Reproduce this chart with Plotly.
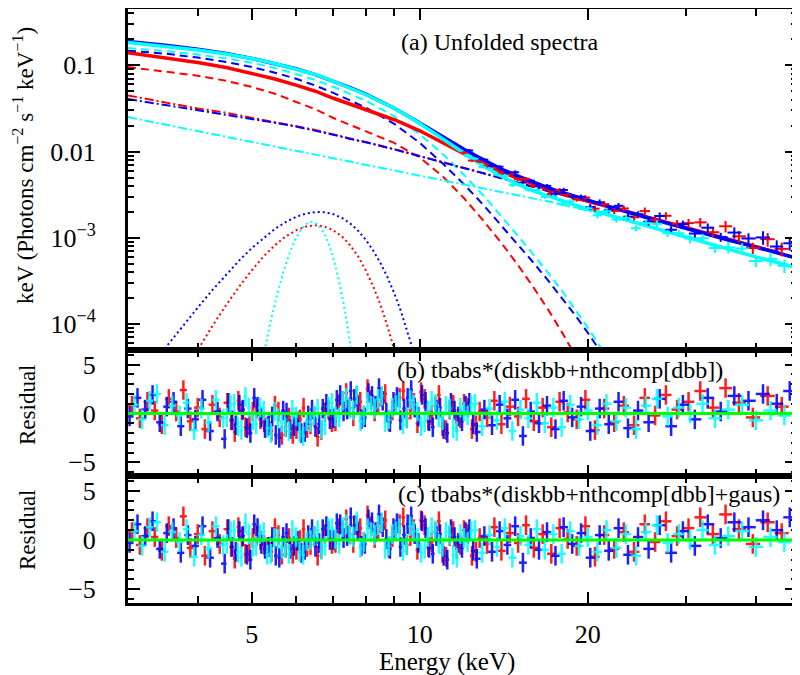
import numpy as np
import plotly.graph_objects as go

RED, BLUE, CYAN, GREEN = "#ff0000", "#0000ff", "#00ffff", "#00ff00"
FONT = "Liberation Serif, Times New Roman, serif"

# ---------------- model curves (panel a) ----------------
E_model = [3.0, 3.5, 4.0, 4.5, 5.0, 5.5, 6.0, 6.5, 7.0, 7.5, 8.0, 9.0, 10.0, 11.0, 12.0, 13.0,
           14.0, 15.0, 16.0, 17.0, 18.0, 19.0, 20.0, 22.0, 25.0, 28.0, 32.0, 36.0, 40.0, 44.0, 47.6]
total_red = [0.1402, 0.1223, 0.1076, 0.0945, 0.0811, 0.0695, 0.0589, 0.0501, 0.0415, 0.0353, 0.0307,
             0.0234, 0.01742, 0.01272, 0.00934, 0.0072, 0.00577, 0.00485, 0.00415, 0.00362, 0.00324,
             0.00292, 0.00265, 0.00226, 0.00180, 0.00147, 0.00117, 0.00095, 0.00079, 0.00067, None]
total_blue = [0.1886, 0.1713, 0.1534, 0.1369, 0.1203, 0.1051, 0.0913, 0.0780, 0.0656, 0.0550, 0.0463,
              0.0318, 0.0215, 0.01483, 0.01063, 0.00802, 0.00628, 0.0052, 0.0044, 0.00379, 0.00336,
              0.00301, 0.00271, 0.00227, 0.00178, 0.00145, 0.00115, 0.00093, 0.00078, 0.00066, 0.000575]
total_cyan = [0.1836, 0.1668, 0.1507, 0.1350, 0.1201, 0.1049, 0.0906, 0.0783, 0.0651, 0.0545, 0.0459,
              0.0317, 0.0211, 0.01398, 0.00951, 0.00682, 0.00517, 0.00415, 0.00348, 0.00303, 0.00267,
              0.00239, 0.00216, 0.00181, 0.00141, 0.00115, 0.00089, 0.00072, 0.00060, 0.00051, 0.000447]
nth_red = [0.0447, 0.0372, 0.0316, 0.0282, 0.0245, 0.0219, 0.0197, 0.0178, 0.0158, 0.0141, 0.0129,
           0.0107, 0.00891, 0.00759, 0.00646, 0.00562, 0.0049, 0.00437, 0.00389, 0.00347, 0.00316,
           0.00288, 0.00263, 0.00224, 0.00178, 0.00145, 0.00115, 0.00093, 0.00078, 0.00066, None]
nth_blue = [0.0407, 0.0347, 0.0302, 0.0269, 0.0240, 0.0216, 0.0195, 0.0176, 0.0157, 0.0140, 0.0128,
            0.0106, 0.00885, 0.00755, 0.00643, 0.00560, 0.00489, 0.00436, 0.00388, 0.00346, 0.00315,
            0.00287, 0.00262, 0.00223, 0.00177, 0.00144, 0.00114, 0.00092, 0.00077, 0.00066, 0.000575]
nth_cyan = [0.0251, 0.0206, 0.0173, 0.0148, 0.01294, 0.01143, 0.0102, 0.00918, 0.00836, 0.00764, 0.00701,
            0.00603, 0.00525, 0.00465, 0.00414, 0.00373, 0.00339, 0.0031, 0.00285, 0.00264, 0.00243,
            0.00224, 0.00207, 0.00178, 0.00141, 0.00115, 0.00089, 0.00072, 0.0006, 0.00051, 0.000447]

E_disk = [3.0, 3.5, 4.0, 4.5, 5.0, 5.5, 6.0, 6.5, 7.0, 7.5, 8.0, 9.0, 10.0, 11.0, 12.0, 13.0,
          14.0, 15.0, 16.0, 17.0, 18.0, 19.0, 20.0, 21.0, 22.0]
disk_red = [0.0955, 0.0851, 0.0759, 0.0661, 0.0562, 0.0468, 0.0380, 0.0309, 0.0245, 0.0204, 0.0174,
            0.0126, 0.00851, 0.00513, 0.00288, 0.00158, 0.00087, 0.00048, 0.000263, 0.000145, 7.9e-5,
            4.4e-5, 2.4e-5, None, None]
disk_blue = [0.148, 0.1365, 0.123, 0.1096, 0.0955, 0.0822, 0.070, 0.0582, 0.0479, 0.0394, 0.0324,
             0.0209, 0.0126, 0.00724, 0.00417, 0.0024, 0.00138, 0.00083, 0.00051, 0.000316, 0.0002,
             0.000126, 7.9e-5, 5.0e-5, 3.2e-5]
disk_cyan = [0.1585, 0.1462, 0.1334, 0.1202, 0.1072, 0.0933, 0.0794, 0.0676, 0.0562, 0.0468, 0.0389,
             0.0257, 0.01585, 0.00933, 0.00537, 0.00309, 0.00178, 0.00105, 0.00063, 0.00039, 0.00024,
             0.000148, 9.1e-5, 5.6e-5, 3.5e-5]

E_gau_red = [3.8, 4.0, 4.25, 4.5, 4.75, 5.0, 5.25, 5.5, 5.75, 6.0, 6.25, 6.5, 6.75, 7.0, 7.25, 7.5,
             7.75, 8.0, 8.25, 8.5, 8.75, 9.0, 9.25]
gau_red = [2.9e-5, 5.0e-5, 9.5e-5, 1.67e-4, 2.74e-4, 4.2e-4, 6.1e-4, 8.2e-4, 1.04e-3, 1.22e-3, 1.35e-3,
           1.40e-3, 1.35e-3, 1.22e-3, 1.04e-3, 8.2e-4, 6.1e-4, 4.2e-4, 2.74e-4, 1.67e-4, 9.5e-5, 5.0e-5, 2.9e-5]
E_gau_blue = [3.4, 3.6, 3.8, 4.0, 4.25, 4.5, 4.75, 5.0, 5.25, 5.5, 5.75, 6.0, 6.25, 6.5, 6.75, 7.0,
              7.25, 7.5, 7.75, 8.0, 8.25, 8.5, 8.75, 9.0, 9.25, 9.5, 9.75, 10.0]
gau_blue = [4.2e-5, 6.7e-5, 1.03e-4, 1.55e-4, 2.48e-4, 3.78e-4, 5.48e-4, 7.6e-4, 1.0e-3, 1.27e-3, 1.52e-3,
            1.75e-3, 1.91e-3, 1.99e-3, 1.98e-3, 1.88e-3, 1.70e-3, 1.47e-3, 1.21e-3, 9.5e-4, 7.1e-4, 5.1e-4,
            3.5e-4, 2.27e-4, 1.41e-4, 8.3e-5, 4.7e-5, 2.5e-5]
E_gau_cyan = [5.1, 5.25, 5.4, 5.55, 5.7, 5.85, 6.0, 6.15, 6.3, 6.4, 6.5, 6.65, 6.8, 6.95, 7.1, 7.25,
              7.4, 7.55, 7.7]
gau_cyan = [1.7e-5, 4.5e-5, 1.06e-4, 2.2e-4, 4.1e-4, 6.8e-4, 1.0e-3, 1.29e-3, 1.49e-3, 1.53e-3, 1.49e-3,
            1.29e-3, 1.0e-3, 6.8e-4, 4.1e-4, 2.2e-4, 1.06e-4, 4.5e-5, 1.7e-5]

# ---------------- data bins (energies, keV) ----------------
E_red = [3.05, 3.15, 3.25, 3.35, 3.45, 3.55, 3.66, 3.77, 3.88, 4.0,
         4.12, 4.25, 4.38, 4.52, 4.66, 4.8, 4.95, 5.1, 5.26, 5.42,
         5.58, 5.75, 5.92, 6.1, 6.28, 6.47, 6.66, 6.86, 7.06, 7.27,
         7.49, 7.71, 7.94, 8.18, 8.42, 8.67, 8.93, 9.2, 9.48, 9.76,
         10.05, 10.35, 10.66, 10.98, 11.31, 11.65, 12.0, 12.4, 12.8, 13.2,
         13.6, 14.0, 14.5, 15.0, 15.5, 16.0, 16.6, 17.2, 17.8, 18.4,
         19.1, 19.8, 20.6, 21.4, 22.3, 23.2, 24.2, 25.3, 26.4, 27.6,
         28.9, 30.3, 31.8, 33.5, 35.3, 37.3, 39.5, 42.0, 44.5]
E_blue = [3.02, 3.12, 3.22, 3.32, 3.42, 3.52, 3.62, 3.73, 3.84, 3.96,
          4.08, 4.21, 4.34, 4.47, 4.61, 4.75, 4.9, 5.05, 5.2, 5.36,
          5.52, 5.69, 5.86, 6.04, 6.22, 6.41, 6.6, 6.8, 7.0, 7.2,
          7.41, 7.63, 7.86, 8.09, 8.33, 8.58, 8.84, 9.1, 9.37, 9.65,
          9.94, 10.24, 10.55, 10.87, 11.2, 11.54, 11.9, 12.27, 12.65, 13.05,
          13.47, 13.9, 14.35, 14.82, 15.3, 15.8, 16.35, 16.9, 17.5, 18.1,
          18.75, 19.45, 20.2, 21.0, 21.8, 22.7, 23.6, 24.6, 25.7, 26.9,
          28.2, 29.6, 31.1, 32.8, 34.6, 36.6, 38.8, 41.2, 43.6, 46.0]
E_cyan = [3.08, 3.18, 3.28, 3.38, 3.49, 3.6, 3.71, 3.82, 3.94, 4.06,
          4.18, 4.31, 4.44, 4.58, 4.72, 4.87, 5.02, 5.17, 5.33, 5.49,
          5.66, 5.83, 6.0, 6.18, 6.37, 6.56, 6.76, 6.96, 7.17, 7.38,
          7.6, 7.83, 8.06, 8.3, 8.55, 8.8, 9.06, 9.33, 9.61, 9.9,
          10.2, 10.5, 10.82, 11.14, 11.48, 11.82, 12.18, 12.55, 12.93, 13.33,
          13.75, 14.2, 14.65, 15.15, 15.65, 16.2, 16.75, 17.35, 17.95, 18.6,
          19.3, 20.0, 20.8, 21.6, 22.5, 23.4, 24.4, 25.4, 26.6, 27.8,
          29.1, 30.5, 32.1, 33.8, 35.7, 37.8, 40.0, 42.5, 45.0]
# extra (finer) bins between 4.5 and 13 keV
E_red_x = [4.59, 4.73, 4.87, 5.02, 5.18, 5.34, 5.5, 5.66, 5.83, 6.01, 6.19, 6.37, 6.56, 6.76, 6.96,
           7.16, 7.38, 7.6, 7.82, 8.06, 8.3, 8.54, 8.8, 9.06, 9.34, 9.62, 9.9, 10.2, 10.5, 10.82,
           11.14, 11.48, 11.82, 12.2, 12.6]
E_blue_x = [4.54, 4.68, 4.82, 4.97, 5.12, 5.28, 5.44, 5.6, 5.77, 5.95, 6.13, 6.31, 6.5, 6.7, 6.9,
            7.1, 7.3, 7.52, 7.74, 7.97, 8.21, 8.45, 8.71, 8.97, 9.23, 9.51, 9.79, 10.09, 10.39, 10.71,
            11.03, 11.37, 11.72, 12.08, 12.46]
E_cyan_x = [4.51, 4.65, 4.79, 4.94, 5.09, 5.25, 5.41, 5.57, 5.74, 5.91, 6.09, 6.27, 6.46, 6.66, 6.86,
            7.06, 7.27, 7.49, 7.71, 7.94, 8.18, 8.42, 8.67, 8.93, 9.19, 9.47, 9.75, 10.05, 10.35, 10.66,
            10.98, 11.31, 11.65, 12.0, 12.36]

# unfolded data above 12 keV (panel a)
flux_red = [0.00971, 0.00787, 0.00765, 0.00678, 0.00663, 0.00552, 0.00548, 0.00478, 0.00483, 0.00398,
            0.00394, 0.00324, 0.00356, 0.00313, 0.00279, 0.00293, 0.00218, 0.00246, 0.00205, 0.00219,
            0.00173, 0.00204, 0.00161, 0.00180, 0.00146, 0.00148, 0.00151, 0.00116, 0.00136, 0.00104,
            0.000762, 0.000964, 0.000744]
flux_red_relerr = [0.04, 0.04, 0.04, 0.04, 0.04, 0.04, 0.05, 0.05, 0.05, 0.05, 0.05, 0.06, 0.06, 0.06,
                   0.06, 0.06, 0.08, 0.08, 0.08, 0.08, 0.08, 0.10, 0.10, 0.10, 0.10, 0.12, 0.12, 0.12,
                   0.15, 0.15, 0.15, 0.18, 0.18]
flux_blue = [0.01029, 0.00818, 0.00805, 0.00681, 0.00667, 0.00572, 0.00576, 0.00437, 0.00460, 0.00397,
             0.00400, 0.00323, 0.00358, 0.00303, 0.00299, 0.00228, 0.00258, 0.00211, 0.00235, 0.00176,
             0.00188, 0.00154, 0.00179, 0.00124, 0.00144, 0.00112, 0.00131, 0.00102, 0.00115, 0.000982,
             0.00101, 0.000792, 0.000864]
flux_blue_relerr = [0.04, 0.04, 0.04, 0.04, 0.04, 0.05, 0.05, 0.05, 0.05, 0.05, 0.05, 0.06, 0.06, 0.06,
                    0.06, 0.08, 0.08, 0.08, 0.08, 0.08, 0.08, 0.10, 0.10, 0.10, 0.10, 0.12, 0.12, 0.12,
                    0.15, 0.15, 0.18, 0.18, 0.18]
flux_cyan = [0.00888, 0.00825, 0.00662, 0.00634, 0.00538, 0.00524, 0.00408, 0.00413, 0.00362, 0.00358,
             0.00297, 0.00300, 0.00246, 0.00264, 0.00224, 0.00220, 0.00182, 0.00203, 0.00163, 0.00169,
             0.00129, 0.00148, 0.00145, 0.00113, 0.00113, 0.000980, 0.000991, 0.000760, 0.000775,
             0.000751, 0.000537, 0.000571, 0.000473]
flux_cyan_relerr = [0.04, 0.04, 0.04, 0.04, 0.04, 0.05, 0.05, 0.05, 0.05, 0.05, 0.05, 0.06, 0.06, 0.06,
                    0.06, 0.06, 0.08, 0.08, 0.08, 0.08, 0.08, 0.10, 0.10, 0.10, 0.10, 0.12, 0.12, 0.12,
                    0.15, 0.15, 0.15, 0.18, 0.18]

# residuals, panel b: tbabs*(diskbb+nthcomp[dbb])
res_b_red = [0.8, -0.5, 1.2, 0.3, -1.1, 1.5, 0.2, 2.4, -0.8, 0.6,
             -1.6, 0.9, -0.4, 1.1, -1.9, 0.3, -1.2, 0.5, -0.9, -1.8,
             0.2, -1.4, -2.1, -0.6, -1.5, -0.3, -1.7, 0.4, -0.8, 1.3,
             0.6, 1.8, -0.2, 1.4, 0.9, 2.0, 0.3, 1.6, -0.5, 1.1,
             2.2, -0.7, 0.8, -1.3, 0.4, -0.9, 1.0, -1.6, 0.2, -0.4,
             1.3, -1.1, 0.7, -0.3, 1.5, -0.8, 0.6, -1.4, 1.2, 0.1,
             -0.6, 1.4, -1.7, 0.5, -0.9, 0.8, -1.2, 1.6, -0.2, 1.9,
             0.4, 1.2, 2.3, 0.6, 2.6, 1.1, -0.4, 1.8, 0.7]
res_b_blue = [-0.3, 1.6, 0.4, 1.9, -0.9, 0.7, 1.2, -1.3, 0.5, -0.6,
              1.4, -1.8, 0.2, -2.6, -0.7, 0.9, -1.5, 1.6, -0.4, -1.2,
              -2.2, 0.3, -1.6, -0.8, -1.9, 0.4, -1.1, 1.0, -0.5, 1.9,
              0.4, 1.5, -0.6, 2.1, 0.8, 1.3, -0.9, 1.7, 0.5, 2.4,
              -0.3, 1.2, -1.4, 0.6, -2.0, 0.3, -0.8, 1.1, -1.9, 0.4,
              -1.2, 0.9, -0.5, 1.4, -2.3, 0.2, -1.0, 0.8, -1.6, 1.3,
              -0.4, 0.7, -1.8, 0.5, -1.1, 1.2, -1.5, 0.3, -0.9, 1.5,
              -1.3, 0.9, -0.6, 1.6, 0.2, 1.8, 1.3, 2.0, 1.0, 2.3]
res_b_cyan = [0.9, -0.6, 1.3, 2.0, -1.2, 0.8, -0.2, 1.1, -1.7, 0.5,
              -0.9, 1.4, -0.5, 0.9, -1.3, 1.7, -0.7, 0.6, -1.5, 0.2,
              -0.9, -1.8, -0.3, -2.3, -0.9, 0.5, -1.2, 1.1, -0.4, 1.6,
              0.3, -0.8, 1.2, 0.5, 1.8, -0.6, 0.9, -1.1, 1.4, 0.2,
              -0.9, 1.3, -0.4, 0.8, -1.5, 0.6, -0.2, 1.0, -1.3, 0.5,
              -0.7, 1.2, -1.8, 0.4, -0.5, 1.1, -1.0, 0.6, -1.4, 0.9,
              -0.6, 0.3, -1.2, 1.0, -0.8, 0.6, -1.6, 0.8, 1.5, -0.3,
              0.6, 0.0, 1.0, -0.5, 0.4, 0.9, -0.7, 0.3, -0.2]
res_b_red_x = [-0.7, 1.3, -1.4, 0.2, -0.6, -1.3, 0.8, -2.2, -0.4, -1.6, 0.6, -1.1, -2.4, 0.1, -0.9,
               0.9, 2.1, -0.3, 1.2, 2.5, 0.2, 1.7, -0.8, 1.0, 2.3, 0.4, -1.0, 1.5, -0.2, 1.9,
               -1.7, 0.9, -0.5, 0.6, -1.2]
res_b_blue_x = [1.1, -1.2, 0.4, -2.0, 0.7, -1.5, -0.3, -2.5, 0.1, -1.3, -2.0, -0.2, -1.4, 0.5, -0.6,
                1.4, 0.2, 2.3, 0.9, -0.4, 1.8, 2.6, 0.1, 1.2, -0.7, 1.6, 0.6, 1.9, -0.8, 0.4,
                -1.6, 1.1, -0.3, 0.8, -1.1]
res_b_cyan_x = [-0.4, 1.0, -1.7, 0.6, -1.1, 0.3, -2.0, -0.5, -1.4, 0.4, -1.9, -0.8, -0.2, -1.6, 0.7,
                -0.3, 1.3, 0.5, 1.9, -0.2, 0.8, 1.5, -0.9, 0.6, 1.2, -0.5, 0.9, -1.3, 0.3, 1.0,
                -0.7, 0.5, -1.8, 0.2, 0.9]
# residuals, panel c: tbabs*(diskbb+nthcomp[dbb]+gaus)
res_c_red = [0.8, -0.5, 1.2, 0.3, -1.1, 1.4, 0.2, 2.4, -0.8, 0.6,
             -1.6, 0.9, -0.4, 1.1, -1.9, 0.3, -1.2, 0.5, -0.5, -1.2,
             0.5, -0.8, -1.4, 0.0, -0.7, 0.4, -0.9, 0.9, -0.3, 1.0,
             0.6, 1.5, -0.2, 1.4, 0.9, 2.0, 0.3, 1.6, -0.5, 1.1,
             2.0, -0.7, 0.8, -1.3, 0.4, -0.9, 1.0, -1.6, 0.2, -0.4,
             1.3, -1.1, 0.7, -0.3, 1.5, -0.8, 0.6, -1.4, 1.2, 0.1,
             -0.6, 1.4, -1.7, 0.5, -0.9, 0.8, -1.2, 1.6, -0.2, 1.9,
             0.4, 1.2, 2.3, 0.6, 2.6, 1.1, -0.4, 1.8, 0.7]
res_c_blue = [-0.3, 1.6, 0.4, 1.9, -0.9, 0.7, 1.2, -1.3, 0.5, -0.6,
              1.4, -1.8, 0.2, -2.4, -0.7, 0.9, -1.5, 1.6, -0.4, -0.7,
              -1.6, 0.3, -0.9, -0.1, -1.0, 1.1, -0.3, 1.4, 0.0, 1.6,
              0.4, 1.5, -0.6, 2.1, 0.8, 1.3, -0.9, 1.7, 0.5, 2.4,
              -0.3, 1.2, -1.4, 0.6, -2.0, 0.3, -0.8, 1.1, -1.9, 0.4,
              -1.2, 0.9, -0.5, 1.4, -2.3, 0.2, -1.0, 0.8, -1.6, 1.3,
              -0.4, 0.7, -1.8, 0.5, -1.1, 1.2, -1.5, 0.3, -0.9, 1.5,
              -1.3, 0.9, -0.6, 1.6, 0.2, 1.8, 1.3, 2.0, 1.0, 2.3]
res_c_cyan = [0.9, -0.6, 1.3, 1.8, -1.2, 0.8, -0.2, 1.1, -1.7, 0.5,
              -0.9, 1.4, -0.5, 0.9, -1.3, 1.7, -0.7, 0.6, -1.5, 0.2,
              -0.9, -1.4, 0.3, -1.5, 0.0, 1.0, -0.6, 1.2, -0.4, 1.6,
              0.3, -0.8, 1.2, 0.5, 1.8, -0.6, 0.9, -1.1, 1.4, 0.2,
              -0.9, 1.3, -0.4, 0.8, -1.5, 0.6, -0.2, 1.0, -1.3, 0.5,
              -0.7, 1.2, -1.8, 0.4, -0.5, 1.1, -1.0, 0.6, -1.4, 0.9,
              -0.6, 0.3, -1.2, 1.0, -0.8, 0.6, -1.6, 0.8, 1.5, -0.3,
              0.6, 0.0, 1.0, -0.5, 0.4, 0.9, -0.7, 0.3, -0.2]
res_c_red_x = [-0.7, 1.3, -1.4, 0.2, 0.0, -0.7, 1.2, -1.5, 0.2, -1.0, 1.1, -0.5, -1.6, 0.6, -0.4,
               1.2, 2.1, -0.3, 1.2, 2.5, 0.2, 1.7, -0.8, 1.0, 2.3, 0.4, -1.0, 1.5, -0.2, 1.9,
               -1.7, 0.9, -0.5, 0.6, -1.2]
res_c_blue_x = [1.1, -1.2, 0.4, -2.0, 1.2, -0.9, 0.3, -1.8, 0.7, -0.6, -1.3, 0.5, -0.7, 1.1, 0.0,
                1.7, 0.2, 2.3, 0.9, -0.4, 1.8, 2.6, 0.1, 1.2, -0.7, 1.6, 0.6, 1.9, -0.8, 0.4,
                -1.6, 1.1, -0.3, 0.8, -1.1]
res_c_cyan_x = [-0.4, 1.0, -1.7, 0.6, -0.6, 0.8, -1.4, 0.1, -0.8, 1.0, -1.2, -0.1, 0.4, -1.0, 1.2,
                0.1, 1.3, 0.5, 1.9, -0.2, 0.8, 1.5, -0.9, 0.6, 1.2, -0.5, 0.9, -1.3, 0.3, 1.0,
                -0.7, 0.5, -1.8, 0.2, 0.9]
RESID_SIGMA = 1.0

# ---------------- helpers ----------------
def bin_halfwidths(E):
    E = np.asarray(E, dtype=float)
    mids = np.sqrt(E[1:] * E[:-1])
    lo = np.concatenate([[E[0] ** 2 / mids[0]], mids])
    hi = np.concatenate([mids, [E[-1] ** 2 / mids[-1]]])
    return E - lo, hi - E

def merged(E_main, E_extra, r_main, r_extra):
    E = np.array(list(E_main) + list(E_extra), dtype=float)
    r = np.array(list(r_main) + list(r_extra), dtype=float)
    order = np.argsort(E)
    return E[order], r[order]

# The page body adds an 8 px margin, so the figure is 8 px smaller than the window.
OFF = 8
W, H = 792, 667
ML, MR, MT, MB = 120, 3, 1, 72
PW, PH = W - ML - MR, H - MT - MB
def PX(x):   # page pixel -> paper fraction
    return (x - OFF - ML) / PW
def PY(y):
    return (H - MB - (y - OFF)) / PH

fig = go.Figure()

datasets = [
    dict(col=RED, E=E_red, Ex=E_red_x, fl=flux_red, rel=flux_red_relerr, thr=11.95,
         rb=res_b_red, rbx=res_b_red_x, rc=res_c_red, rcx=res_c_red_x,
         tot=total_red, disk=disk_red, nth=nth_red, Eg=E_gau_red, g=gau_red),
    dict(col=BLUE, E=E_blue, Ex=E_blue_x, fl=flux_blue, rel=flux_blue_relerr, thr=12.0,
         rb=res_b_blue, rbx=res_b_blue_x, rc=res_c_blue, rcx=res_c_blue_x,
         tot=total_blue, disk=disk_blue, nth=nth_blue, Eg=E_gau_blue, g=gau_blue),
    dict(col=CYAN, E=E_cyan, Ex=E_cyan_x, fl=flux_cyan, rel=flux_cyan_relerr, thr=12.0,
         rb=res_b_cyan, rbx=res_b_cyan_x, rc=res_c_cyan, rcx=res_c_cyan_x,
         tot=total_cyan, disk=disk_cyan, nth=nth_cyan, Eg=E_gau_cyan, g=gau_cyan),
]

for d in datasets:
    fig.add_trace(go.Scatter(x=d["Eg"], y=d["g"], mode="lines",
                             line=dict(color=d["col"], width=2, dash="2px,3px"),
                             xaxis="x", yaxis="y", showlegend=False, hoverinfo="skip"))
for d in datasets:
    fig.add_trace(go.Scatter(x=E_disk, y=d["disk"], mode="lines",
                             line=dict(color=d["col"], width=2, dash="8px,5px"),
                             xaxis="x", yaxis="y", showlegend=False, hoverinfo="skip"))
for d in datasets:
    fig.add_trace(go.Scatter(x=E_model, y=d["nth"], mode="lines",
                             line=dict(color=d["col"], width=2, dash="9px,3px,2px,3px"),
                             xaxis="x", yaxis="y", showlegend=False, hoverinfo="skip"))
for d in datasets:
    fig.add_trace(go.Scatter(x=E_model, y=d["tot"], mode="lines", line=dict(color=d["col"], width=3.5),
                             xaxis="x", yaxis="y", showlegend=False, hoverinfo="skip"))

# unfolded data crosses
for d in datasets:
    Ea = np.asarray(d["E"], dtype=float)
    lo, hi = bin_halfwidths(Ea)
    sel = Ea >= d["thr"]
    fla = np.asarray(d["fl"])
    err = fla * np.asarray(d["rel"])
    fig.add_trace(go.Scatter(
        x=Ea[sel], y=fla, mode="markers", marker=dict(size=1, color=d["col"]),
        error_x=dict(type="data", array=hi[sel], arrayminus=lo[sel], symmetric=False,
                     width=0, thickness=2, color=d["col"]),
        error_y=dict(type="data", array=err, width=0, thickness=2, color=d["col"]),
        xaxis="x", yaxis="y", showlegend=False, hoverinfo="skip"))

# residual panels
for ax, kr, krx in (("2", "rb", "rbx"), ("3", "rc", "rcx")):
    for d in datasets:
        E, r = merged(d["E"], d["Ex"], d[kr], d[krx])
        lo, hi = bin_halfwidths(E)
        fig.add_trace(go.Scatter(
            x=E, y=r, mode="markers", marker=dict(size=1, color=d["col"]), opacity=0.88,
            error_x=dict(type="data", array=hi, arrayminus=lo, symmetric=False,
                         width=0, thickness=2.5, color=d["col"]),
            error_y=dict(type="constant", value=RESID_SIGMA, width=0, thickness=2.5, color=d["col"]),
            xaxis="x" + ax, yaxis="y" + ax, showlegend=False, hoverinfo="skip"))

tickfont = dict(family=FONT, size=26, color="black")
xcommon = dict(type="log", range=[np.log10(3.0), np.log10(47.4)], showline=True, linewidth=3,
               linecolor="black", mirror="allticks", ticks="inside", ticklen=11, tickwidth=2,
               tickcolor="black", tickmode="array", tickvals=[5, 10, 20], ticktext=["5", "10", "20"],
               minor=dict(ticks="inside", ticklen=7, tickwidth=2, tickcolor="black", tickmode="array",
                          tickvals=[4, 6, 7, 8, 9, 30, 40], showgrid=False),
               showgrid=False, zeroline=False, tickfont=tickfont, ticklabelstandoff=6,
               automargin=False)

y_minor = [m * 10.0 ** k for k in range(-5, 0) for m in range(2, 10) if 5e-5 <= m * 10.0 ** k <= 0.457]
ycommon = dict(showline=True, linewidth=3, linecolor="black", mirror="allticks", ticks="inside",
               ticklen=12, tickwidth=2, tickcolor="black", showgrid=False, zeroline=False,
               tickfont=tickfont, tickmode="array", ticklabelstandoff=24, automargin=False)
res_axis = dict(ycommon, range=[-6.4, 6.5], tickvals=[-5, 0, 5], ticktext=["\u22125", "0", "5"],
                minor=dict(ticks="inside", ticklen=6, tickwidth=2, tickcolor="black", tickmode="array",
                           tickvals=[-6, -4, -3, -2, -1, 1, 2, 3, 4, 6], showgrid=False))

b_ab, b_bc = PY(350), PY(476)
fig.update_layout(
    template="none",
    width=W, height=H, margin=dict(l=ML, r=MR, t=MT, b=MB, autoexpand=False),
    paper_bgcolor="white", plot_bgcolor="white", showlegend=False,
    font=dict(family=FONT, color="black"),
    xaxis=dict(xcommon, anchor="y", showticklabels=False),
    xaxis2=dict(xcommon, anchor="y2", matches="x", showticklabels=False),
    xaxis3=dict(xcommon, anchor="y3", matches="x", showticklabels=True),
    yaxis=dict(ycommon, type="log", domain=[b_ab, 1.0], anchor="x",
               range=[np.log10(5.0e-5), np.log10(0.45)],
               tickvals=[1e-4, 1e-3, 1e-2, 1e-1],
               ticktext=["10<sup>\u22124</sup>", "10<sup>\u22123</sup>", "0.01", "0.1"],
               minor=dict(ticks="inside", ticklen=6, tickwidth=2, tickcolor="black", tickmode="array",
                          tickvals=y_minor, showgrid=False)),
    yaxis2=dict(res_axis, domain=[b_bc, b_ab], anchor="x2"),
    yaxis3=dict(res_axis, domain=[0.0, b_bc], anchor="x3"),
    shapes=[
        dict(type="line", xref="x2 domain", x0=0, x1=1, yref="y2", y0=0, y1=0,
             line=dict(color=GREEN, width=3), layer="above"),
        dict(type="line", xref="x3 domain", x0=0, x1=1, yref="y3", y0=0, y1=0,
             line=dict(color=GREEN, width=3), layer="above"),
    ],
    annotations=[
        dict(text="keV (Photons cm<sup>\u22122</sup> s<sup>\u22121</sup> keV<sup>\u22121</sup>)",
             xref="paper", yref="paper", x=PX(24), y=PY(166), textangle=-90, showarrow=False,
             xanchor="center", yanchor="middle", font=dict(family=FONT, size=23, color="black")),
        dict(text="Residual", xref="paper", yref="paper", x=PX(27), y=PY(405), textangle=-90,
             showarrow=False, xanchor="center", yanchor="middle",
             font=dict(family=FONT, size=23, color="black")),
        dict(text="Residual", xref="paper", yref="paper", x=PX(27), y=PY(530), textangle=-90,
             showarrow=False, xanchor="center", yanchor="middle",
             font=dict(family=FONT, size=23, color="black")),
        dict(text="Energy (keV)", xref="paper", yref="paper", x=PX(447), y=PY(662), showarrow=False,
             xanchor="center", yanchor="middle", font=dict(family=FONT, size=25, color="black")),
        dict(text="(a) Unfolded spectra", xref="paper", yref="paper", x=PX(399), y=PY(42),
             showarrow=False, xanchor="left", yanchor="middle",
             font=dict(family=FONT, size=24, color="black")),
        dict(text="(b) tbabs*(diskbb+nthcomp[dbb])", xref="paper", yref="paper", x=PX(395), y=PY(370),
             showarrow=False, xanchor="left", yanchor="middle",
             font=dict(family=FONT, size=24, color="black")),
        dict(text="(c) tbabs*(diskbb+nthcomp[dbb]+gaus)", xref="paper", yref="paper", x=PX(396),
             y=PY(494), showarrow=False, xanchor="left", yanchor="middle",
             font=dict(family=FONT, size=24, color="black")),
    ],
)

fig.write_html("out.html")
